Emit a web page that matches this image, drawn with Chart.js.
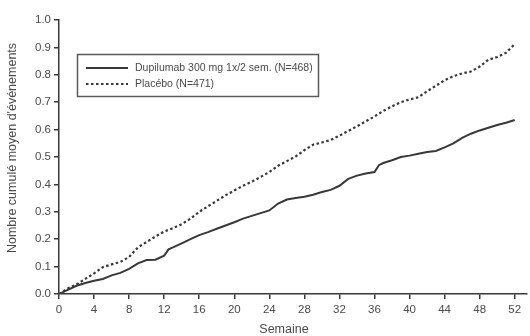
<!DOCTYPE html>
<html>
<head>
<meta charset="utf-8">
<script src="https://cdn.jsdelivr.net/npm/chart.js@4.4.1/dist/chart.umd.min.js"></script>
<style>
  html, body { margin: 0; padding: 0; background: #fff; }
  #wrap { width: 530px; height: 336px; position: relative; }
</style>
</head>
<body>
<div id="wrap"><canvas id="c" width="530" height="336"></canvas></div>
<script>
// ---- data ----
const xTitle = "Semaine";
const yTitle = "Nombre cumulé moyen d'événements";
const seriesLabels = ["Dupilumab 300 mg 1x/2 sem. (N=468)", "Placébo (N=471)"];

const dupiWeeks = [0,1,2,3,4,5,6,7,8,9,10,11,12,12.5,13,14,15,16,17,18,19,20,21,22,23,24,25,26,27,28,29,30,31,32,33,34,35,36,36.5,37,38,39,40,41,42,43,44,45,46,47,48,49,50,51,52];
const dupiValues = [0,0.015,0.03,0.04,0.048,0.055,0.068,0.077,0.092,0.112,0.124,0.125,0.14,0.163,0.17,0.185,0.2,0.215,0.226,0.238,0.25,0.262,0.275,0.285,0.295,0.305,0.33,0.345,0.35,0.355,0.362,0.372,0.38,0.395,0.42,0.432,0.44,0.445,0.47,0.478,0.488,0.5,0.505,0.512,0.518,0.522,0.535,0.55,0.57,0.585,0.597,0.607,0.617,0.625,0.635];

const placeboWeeks = [0,1,2,3,4,5,6,7,8,8.7,9,10,11,12,13,14,15,16,17,18,19,20,21,22,23,24,25,26,27,28,29,30,31,32,33,34,35,36,37,38,39,40,41,42,43,44,45,46,47,48,49,50,51,52];
const placeboValues = [0,0.02,0.035,0.055,0.075,0.098,0.108,0.117,0.135,0.16,0.17,0.19,0.21,0.228,0.24,0.255,0.275,0.3,0.32,0.34,0.36,0.378,0.395,0.41,0.427,0.445,0.468,0.485,0.502,0.525,0.545,0.553,0.562,0.578,0.595,0.612,0.63,0.648,0.668,0.685,0.7,0.71,0.718,0.74,0.76,0.78,0.795,0.805,0.812,0.83,0.855,0.865,0.88,0.912];

// ---- build ----
const toPts = (xs, ys) => xs.map((x, i) => ({ x: x, y: ys[i] }));
const INK = '#383838';
const TXT = '#4a4a4a';
const FONT = "'Liberation Sans', Arial, sans-serif";

const overlay = {
  id: 'overlay',
  afterDraw(chart) {
    const ctx = chart.ctx;
    ctx.save();
    // axis titles
    ctx.fillStyle = TXT;
    ctx.font = "12.5px " + FONT;
    ctx.textAlign = 'center';
    ctx.textBaseline = 'middle';
    ctx.fillText(xTitle, 284, 330);
    ctx.translate(13, 148);
    ctx.rotate(-Math.PI / 2);
    ctx.fillText(yTitle, 0, 0);
    ctx.restore();

    // legend box
    ctx.save();
    ctx.strokeStyle = '#5a5a5a';
    ctx.lineWidth = 1.5;
    ctx.strokeRect(77.5, 54.5, 241, 42);
    const ds = chart.data.datasets;
    const rows = [68, 84];
    ds.forEach((d, i) => {
      ctx.beginPath();
      ctx.strokeStyle = d.borderColor;
      ctx.lineWidth = d.borderWidth;
      ctx.setLineDash(d.borderDash || []);
      ctx.moveTo(86, rows[i]);
      ctx.lineTo(128, rows[i]);
      ctx.stroke();
      ctx.setLineDash([]);
      ctx.fillStyle = TXT;
      ctx.font = "10.5px " + FONT;
      ctx.textAlign = 'left';
      ctx.textBaseline = 'middle';
      ctx.fillText(d.label, 135, rows[i] + 0.5);
    });
    ctx.restore();
  }
};

new Chart(document.getElementById('c'), {
  type: 'line',
  data: {
    datasets: [
      {
        label: seriesLabels[0],
        data: toPts(dupiWeeks, dupiValues),
        borderColor: INK,
        borderWidth: 2,
        pointRadius: 0,
        tension: 0,
        fill: false
      },
      {
        label: seriesLabels[1],
        data: toPts(placeboWeeks, placeboValues),
        borderColor: INK,
        borderWidth: 2.2,
        borderDash: [2.5, 2.5],
        pointRadius: 0,
        tension: 0,
        fill: false
      }
    ]
  },
  options: {
    responsive: false,
    animation: false,
    layout: { padding: { left: 0, right: 3, top: 20, bottom: 0 } },
    plugins: { legend: { display: false }, tooltip: { enabled: false } },
    scales: {
      x: {
        type: 'linear',
        min: 0,
        max: 53.4,
        afterFit: s => { s.height = 42; },
        border: { display: true, color: INK, width: 1.5 },
        grid: { drawOnChartArea: false, drawTicks: true, tickLength: 5, color: INK, lineWidth: 1.5 },
        ticks: { stepSize: 4, includeBounds: false, color: TXT, font: { family: FONT, size: 11.5 }, padding: 4, maxRotation: 0, autoSkip: false,
                 callback: v => String(v) }
      },
      y: {
        type: 'linear',
        min: 0,
        max: 1.0,
        afterFit: s => { s.width = 59; },
        border: { display: true, color: INK, width: 1.5 },
        grid: { drawOnChartArea: false, drawTicks: true, tickLength: 5, color: INK, lineWidth: 1.5 },
        ticks: { stepSize: 0.1, color: TXT, font: { family: FONT, size: 11.5 }, padding: 3,
                 callback: v => Number(v).toFixed(1) }
      }
    }
  },
  plugins: [overlay]
});
</script>
</body>
</html>
